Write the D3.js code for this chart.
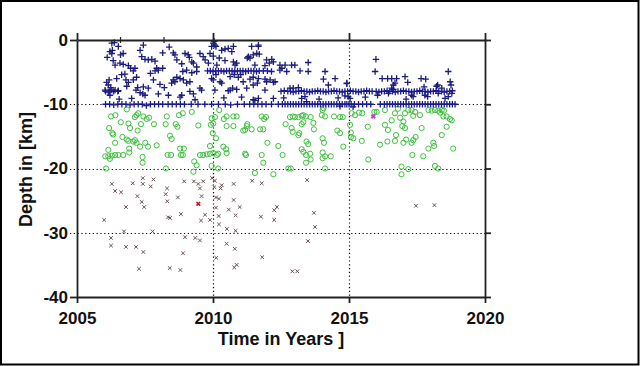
<!DOCTYPE html>
<html><head><meta charset="utf-8">
<script src="https://cdn.jsdelivr.net/npm/d3@7"></script>
<style>body{margin:0;background:#fff}svg{display:block}</style>
</head><body>
<svg id="chart" width="640" height="366"></svg>
<script>
// ---- axis ticks ----
const xTicks = [2005, 2010, 2015, 2020];
const yTicks = [0, -10, -20, -30, -40];
const gridYears = [2010, 2015];
const gridDepths = [-10, -20, -30];
const topMinorTicks = [2006.6, 2008.2];
const xTitle = "Time in Years ]";
const yTitle = "Depth in [km]";

// ---- shallow events (+), scattered ----
const shallowScatter = [
[2006.28,-0.5],[2006.37,-0.4],[2006.21,-1.8],[2006.30,-1.6],[2006.28,-2.1],[2006.52,-1.0],[2006.70,-2.1],[2006.11,-2.7],
[2006.33,-3.2],[2006.40,-3.9],[2006.58,-3.6],[2006.70,-3.8],[2006.89,-4.0],[2006.97,-4.4],[2007.07,-4.8],[2007.13,-4.4],
[2007.44,-0.8],[2007.32,-1.6],[2007.38,-2.6],[2007.50,-3.0],[2007.62,-3.1],[2007.75,-3.0],[2007.87,-3.3],[2008.15,-2.0],
[2007.93,-4.4],[2007.87,-4.8],[2007.99,-4.7],[2008.15,-4.4],[2008.39,-1.1],[2008.54,-2.0],[2008.60,-2.3],[2008.67,-3.1],
[2008.85,-3.7],[2008.97,-2.1],[2009.09,-2.3],[2009.13,-2.7],[2009.22,-3.4],[2009.28,-3.6],[2009.40,-4.2],[2008.89,-4.9],
[2009.03,-4.7],[2009.22,-5.1],[2009.40,-4.9],[2009.52,-2.1],[2009.64,-2.6],[2009.71,-3.1],[2009.83,-3.6],[2006.60,-2.3],
[2006.18,-6.2],[2006.09,-6.6],[2006.15,-7.0],[2006.24,-7.4],[2006.21,-8.6],[2006.03,-7.8],[2006.40,-7.8],[2006.52,-7.9],
[2006.28,-7.8],[2006.15,-8.1],[2006.46,-6.0],[2006.64,-5.4],[2006.76,-5.3],[2006.80,-6.2],[2006.89,-6.6],[2006.83,-7.2],
[2007.07,-6.2],[2007.19,-5.8],[2007.17,-7.8],[2007.23,-7.4],[2007.32,-8.2],[2007.42,-8.4],[2007.50,-8.6],[2007.62,-7.5],
[2007.81,-6.2],[2007.99,-8.4],[2008.21,-7.4],[2008.36,-8.6],[2008.54,-6.2],[2008.67,-5.8],[2008.79,-6.0],[2008.91,-6.2],
[2008.85,-8.6],[2008.79,-8.9],[2009.03,-6.7],[2009.15,-6.5],[2009.15,-8.0],[2009.28,-8.4],[2009.34,-9.3],[2009.52,-7.5],
[2009.58,-7.8],[2007.01,-9.1],[2007.44,-7.3],[2008.48,-6.7],[2008.60,-6.5],[2007.70,-5.2],[2008.05,-6.9],[2006.55,-9.2],
[2009.95,-1.0],[2010.01,-0.5],[2010.04,-0.2],[2010.11,-1.0],[2010.07,-0.8],[2009.89,-2.1],[2010.01,-2.5],[2010.32,-1.6],
[2010.44,-1.4],[2010.56,-1.3],[2010.75,-1.0],[2010.69,-1.8],[2010.23,-2.8],[2010.44,-3.2],[2010.75,-3.4],[2010.81,-3.9],
[2010.87,-3.6],[2010.14,-3.9],[2011.30,-2.6],[2011.36,-2.8],[2011.48,-2.3],[2011.67,-1.0],[2011.42,-1.0],[2011.67,-0.8],
[2011.61,-2.1],[2011.70,-2.2],[2011.26,-2.8],[2011.54,-3.9],[2009.95,-6.0],[2010.01,-6.2],[2010.11,-5.4],[2010.07,-7.8],
[2010.32,-6.7],[2010.26,-6.5],[2010.63,-7.8],[2010.72,-7.5],[2010.87,-7.7],[2010.78,-5.4],[2010.93,-5.8],[2011.02,-5.4],
[2010.63,-5.7],[2011.11,-6.5],[2011.24,-7.5],[2011.48,-9.3],[2011.67,-9.1],[2011.36,-6.1],[2011.48,-5.8],[2011.67,-6.0],
[2011.48,-7.0],[2011.63,-6.7],[2010.56,-7.9],[2010.40,-9.0],[2011.05,-8.9],
[2011.97,-3.1],[2012.07,-3.6],[2012.16,-3.0],[2012.22,-3.4],[2011.91,-4.0],[2012.46,-3.9],[2012.53,-4.4],[2012.65,-3.9],
[2012.89,-3.9],[2013.01,-3.9],[2013.50,-3.5],[2012.46,-4.7],[2012.71,-4.9],[2013.20,-4.8],[2013.50,-4.9],
[2014.12,-4.9],[2011.91,-6.1],[2012.10,-6.2],[2012.22,-6.6],[2012.28,-6.5],[2011.97,-6.5],[2011.91,-7.8],[2012.83,-7.5],
[2013.14,-7.4],[2012.95,-7.5],[2014.06,-6.1],[2014.49,-6.0],[2014.24,-7.0],[2014.92,-6.8],[2012.22,-9.1],[2013.26,-9.1],
[2013.38,-8.8],[2013.44,-9.6],[2011.54,-9.4],[2014.85,-8.7],[2013.90,-9.2],[2014.60,-9.0],[2012.60,-9.0],
[2015.99,-3.0],[2015.96,-4.9],[2016.22,-6.0],[2016.42,-6.0],[2016.57,-6.0],[2016.75,-6.0],[2017.06,-5.7],[2017.16,-6.6],
[2016.63,-7.0],[2016.69,-6.7],[2016.57,-7.5],[2017.65,-6.0],[2017.82,-6.1],[2017.76,-7.3],[2018.26,-7.0],[2018.41,-7.5],
[2018.65,-4.9],[2018.72,-6.5],[2018.75,-7.0],[2018.22,-7.2],[2014.92,-6.7],[2017.30,-8.6],[2017.36,-8.8],[2014.97,-8.8],
[2015.04,-9.1],[2017.79,-8.6],[2017.89,-8.8],[2018.53,-9.1],[2018.65,-8.8],[2018.28,-8.3],[2016.45,-8.3],[2016.63,-7.7],
[2018.78,-8.3],[2015.15,-10.4],[2014.67,-10.3],[2016.05,-8.6],[2015.60,-8.9],[2017.10,-9.2]
];
// ---- shallow events (+) on the -8 km line ----
const shallowBand8 = [
[2006.05,-8.0],[2006.2,-8.0],[2006.35,-8.0],[2006.5,-8.0],
[2012.5,-8.0],[2012.62,-7.9],[2012.75,-8.0],[2012.85,-8.0],[2012.95,-8.1],[2013.05,-8.0],[2013.15,-8.0],[2013.25,-7.9],
[2013.35,-8.0],[2013.45,-8.0],[2013.55,-8.1],[2013.65,-8.0],[2013.75,-8.0],[2013.85,-7.9],[2013.95,-8.0],[2014.05,-8.0],
[2014.15,-8.1],[2014.25,-8.0],[2014.35,-8.0],[2014.45,-7.9],[2014.55,-8.0],[2014.65,-8.0],[2014.75,-8.1],[2014.85,-8.0],
[2014.95,-8.0],[2015.05,-7.9],[2015.15,-8.0],[2015.25,-8.0],[2015.35,-8.1],[2015.45,-8.0],[2015.55,-8.0],[2015.65,-7.9],
[2015.75,-8.0],[2015.85,-8.0],[2016.0,-8.0],[2016.1,-8.1],[2016.2,-8.0],[2016.3,-8.0],[2016.4,-7.9],[2016.5,-8.0],
[2016.6,-8.0],[2016.7,-8.1],[2016.8,-8.0],[2016.9,-8.0],[2017.0,-7.9],[2017.1,-8.0],[2017.2,-8.0],[2017.3,-8.1],
[2017.4,-8.0],[2017.5,-8.0],[2017.6,-7.9],[2017.7,-8.0],[2017.8,-8.0],[2017.9,-8.1],[2018.0,-8.0],[2018.1,-8.0],
[2018.2,-7.9],[2018.3,-8.0],[2018.4,-8.0],[2018.5,-8.1],[2018.6,-8.0],[2018.7,-8.0],[2018.8,-7.9]
];
// ---- shallow events (+) on the -4.8 km line ----
const shallowBand5 = [
[2009.8,-4.8],[2009.9,-4.8],[2010.0,-4.9],[2010.1,-4.8],[2010.2,-4.8],[2010.3,-4.8],[2010.4,-4.9],[2010.5,-4.8],
[2010.6,-4.8],[2010.7,-4.8],[2010.8,-4.9],[2010.9,-4.8],[2011.0,-4.8],[2011.1,-4.8],[2011.2,-4.9],[2011.3,-4.8],
[2011.4,-4.8],[2011.5,-4.8],[2011.6,-4.9],[2011.7,-4.8],[2011.85,-4.8],[2012.0,-4.8],[2012.15,-4.9]
];
// ---- shallow events (+) on the -10 km line ----
const shallowBand10 = [
[2006.05,-10.0],[2006.2,-10.0],[2006.35,-10.1],[2006.5,-10.0],[2006.65,-10.0],[2006.8,-10.0],[2006.95,-10.1],[2007.1,-10.0],
[2007.25,-10.0],[2007.4,-10.0],[2007.55,-10.2],[2007.7,-10.0],[2007.85,-10.0],[2008.0,-10.0],[2008.15,-10.0],[2008.35,-10.0],
[2008.5,-10.0],[2008.65,-10.0],[2008.8,-10.0],[2008.95,-10.0],[2009.2,-10.0],[2009.45,-10.0],[2009.7,-10.0],[2009.95,-10.0],
[2010.2,-10.0],[2010.45,-10.0],[2010.65,-10.1],[2010.9,-10.0],[2011.15,-10.0],[2011.35,-10.0],[2011.5,-10.0],[2011.65,-10.0],
[2011.8,-10.0],[2011.95,-10.0],[2012.15,-10.0],[2012.4,-10.0],[2012.55,-10.0],[2012.65,-10.0],[2012.75,-10.0],[2012.85,-10.0],
[2012.95,-10.0],[2013.05,-10.0],[2013.15,-10.0],[2013.25,-10.0],[2013.35,-10.0],[2013.45,-10.0],[2013.55,-10.0],[2013.65,-10.0],
[2013.75,-10.0],[2013.85,-10.0],[2013.95,-10.0],[2014.05,-10.0],[2014.15,-10.0],[2014.25,-10.0],[2014.35,-10.0],[2014.45,-10.0],
[2014.55,-10.0],[2014.65,-10.0],[2014.75,-10.0],[2014.85,-10.0],[2014.92,-10.0],[2015.0,-10.0],[2015.08,-10.0],[2015.2,-10.0],
[2015.35,-10.0],[2015.5,-10.0],[2015.65,-10.0],[2015.8,-10.0],[2016.15,-10.0],[2016.3,-10.0],[2016.4,-10.0],[2016.5,-10.0],
[2016.6,-10.0],[2016.7,-10.0],[2016.8,-10.0],[2016.9,-10.0],[2017.0,-10.0],[2017.1,-10.0],[2017.2,-10.0],[2017.3,-10.0],
[2017.4,-10.0],[2017.5,-10.0],[2017.6,-10.0],[2017.7,-10.0],[2017.8,-10.0],[2017.9,-10.0],[2018.0,-10.0],[2018.1,-10.0],
[2018.2,-10.0],[2018.3,-10.0],[2018.4,-10.0],[2018.5,-10.0],[2018.6,-10.0],[2018.7,-10.0],[2018.8,-10.0],[2018.9,-10.0]
];

// ---- intermediate events (o) ----
const midEvents = [
[2006.07,-20.0],[2006.25,-11.9],[2006.41,-11.7],[2006.18,-13.7],[2006.61,-12.8],[2006.83,-10.8],[2006.89,-13.0],[2006.95,-13.7],
[2007.13,-12.0],[2007.19,-11.7],[2007.25,-11.4],[2007.44,-11.9],[2007.56,-12.3],[2007.65,-12.1],[2007.35,-13.1],[2007.23,-14.1],
[2007.83,-13.1],[2006.30,-14.5],[2006.33,-14.7],[2006.40,-16.0],[2006.67,-15.1],[2006.83,-15.5],[2006.89,-15.7],[2007.07,-15.8],
[2007.13,-15.6],[2007.19,-16.0],[2006.92,-16.9],[2007.32,-16.6],[2007.51,-16.0],[2007.61,-16.6],[2007.93,-16.4],[2006.15,-17.1],
[2006.04,-18.1],[2006.15,-18.1],[2006.28,-18.0],[2006.40,-17.9],[2006.52,-17.9],[2006.70,-17.9],[2006.21,-18.5],[2006.92,-17.5],
[2007.41,-18.2],[2007.41,-19.1],[2008.30,-11.9],[2008.26,-13.1],[2008.63,-13.1],[2008.69,-13.5],[2008.42,-14.9],[2008.48,-15.4],
[2008.75,-11.7],[2008.89,-11.4],[2009.22,-11.2],[2009.46,-13.3],[2008.79,-16.9],[2008.93,-16.9],[2008.33,-17.9],[2008.46,-17.9],
[2008.82,-17.9],[2008.89,-17.9],[2008.27,-20.0],[2009.31,-18.9],[2009.40,-19.5],[2009.28,-20.5],[2009.52,-17.9],[2009.64,-17.9],
[2009.77,-17.8],[2009.89,-17.7],[2010.01,-17.6],[2010.14,-17.9],[2010.19,-17.7],[2009.89,-16.5],[2009.99,-14.5],[2010.11,-15.3],
[2009.92,-13.2],[2010.01,-13.0],[2009.95,-12.2],[2010.07,-12.0],[2010.23,-10.9],[2010.40,-12.3],[2010.50,-11.9],[2010.75,-11.9],
[2010.87,-11.9],[2010.50,-13.4],[2010.75,-13.4],[2010.38,-16.6],[2010.48,-17.0],[2010.50,-17.6],[2011.18,-17.7],[2011.24,-13.4],
[2011.18,-14.0],[2011.42,-13.9],[2009.95,-19.6],[2010.19,-20.0],[2011.54,-20.7],[2011.26,-13.1],[2011.11,-14.1],[2011.79,-11.9],
[2011.88,-12.3],[2011.95,-12.0],[2011.73,-13.9],[2011.85,-13.9],[2012.00,-16.0],[2012.40,-16.5],[2011.21,-17.9],[2011.79,-17.9],
[2011.85,-19.1],[2012.56,-17.9],[2012.22,-20.9],[2012.67,-13.1],[2012.83,-12.0],[2012.93,-11.9],[2013.01,-12.0],[2013.14,-12.0],
[2013.26,-11.8],[2013.32,-11.7],[2013.41,-11.9],[2012.89,-13.7],[2012.93,-14.3],[2013.14,-14.8],[2013.17,-14.5],[2013.26,-13.1],
[2013.32,-12.8],[2013.69,-12.9],[2013.59,-12.0],[2014.00,-11.7],[2014.12,-11.9],[2013.71,-13.9],[2014.03,-15.3],[2014.08,-16.0],
[2013.44,-15.8],[2013.50,-16.2],[2013.26,-17.0],[2013.32,-17.4],[2013.57,-17.7],[2013.42,-17.9],[2014.03,-17.5],[2014.12,-18.1],
[2014.33,-18.1],[2013.59,-18.6],[2013.42,-19.1],[2014.03,-18.4],[2012.77,-20.0],[2012.86,-20.0],[2014.12,-20.0],[2014.45,-11.9],
[2014.67,-12.0],[2014.77,-12.0],[2014.57,-14.1],[2014.67,-14.5],[2014.79,-16.6],[2014.03,-10.9],[2014.06,-10.6],[2015.10,-11.4],
[2015.22,-11.7],[2015.37,-11.3],[2015.49,-11.4],[2015.04,-13.2],[2015.07,-14.4],[2015.07,-15.1],[2015.16,-15.3],[2015.47,-15.7],
[2015.69,-13.5],[2015.71,-18.6],[2015.93,-11.2],[2016.02,-11.2],[2016.57,-12.5],[2016.41,-15.8],[2016.69,-15.7],[2016.73,-14.8],
[2016.96,-13.4],[2017.00,-12.7],[2017.06,-11.4],[2017.18,-10.9],[2017.30,-10.9],[2017.43,-11.2],[2017.36,-11.8],[2017.00,-16.0],
[2017.10,-15.5],[2017.30,-16.0],[2017.36,-15.6],[2017.45,-15.1],[2017.33,-17.9],[2017.73,-18.1],[2017.67,-13.7],[2017.61,-11.7],
[2017.92,-10.9],[2018.04,-11.0],[2018.16,-10.9],[2018.28,-11.0],[2018.41,-10.9],[2018.49,-11.0],[2018.47,-11.9],[2018.71,-12.3],
[2018.59,-13.5],[2018.41,-14.8],[2018.10,-16.0],[2018.13,-16.5],[2017.92,-16.9],[2018.83,-16.9],[2016.93,-19.7],[2017.18,-20.1],
[2016.93,-20.9],[2018.28,-20.0],[2018.16,-19.6],[2018.59,-11.9],[2018.78,-12.5],[2018.35,-11.3],[2016.32,-13.2],[2016.43,-14.0],
[2016.88,-12.1],[2017.06,-13.7],[2016.69,-11.4],[2016.80,-10.7],[2016.32,-10.9],[2016.14,-16.3]
];

// ---- deep events (x) ----
const deepEvents = [
[2006.28,-22.4],[2007.05,-22.3],[2007.42,-21.5],[2007.42,-22.4],[2007.81,-21.7],[2007.71,-22.8],[2006.40,-23.5],[2006.62,-23.7],
[2007.22,-24.3],[2007.38,-25.2],[2007.47,-26.0],[2006.80,-26.0],[2006.00,-28.0],[2006.73,-29.8],[2007.78,-29.8],[2006.25,-30.8],
[2006.25,-32.0],[2006.80,-32.2],[2007.17,-32.2],[2007.44,-33.0],[2007.28,-35.6],[2008.31,-23.1],[2008.26,-24.0],[2008.32,-25.1],
[2008.71,-24.5],[2008.35,-27.6],[2008.42,-27.7],[2008.82,-27.1],[2008.94,-22.0],[2009.30,-22.0],[2009.46,-22.4],[2009.64,-22.0],
[2009.52,-23.1],[2009.58,-24.3],[2009.71,-27.2],[2009.56,-28.1],[2009.89,-28.0],[2008.97,-30.7],[2009.35,-30.8],[2009.52,-31.2],
[2008.90,-33.2],[2008.41,-35.5],[2008.80,-35.8],[2009.97,-21.5],[2010.07,-21.9],[2010.05,-22.9],[2010.32,-22.6],[2010.28,-23.1],
[2010.76,-22.4],[2010.11,-24.5],[2010.22,-24.7],[2010.76,-24.9],[2010.11,-26.1],[2010.58,-26.4],[2010.98,-26.0],[2010.21,-27.4],
[2010.83,-27.3],[2010.22,-28.7],[2010.51,-29.4],[2010.83,-29.7],[2010.50,-31.7],[2010.80,-32.5],[2010.12,-33.9],[2010.87,-35.0],
[2010.78,-35.4],[2011.44,-21.9],[2011.79,-22.3],[2012.25,-26.5],[2012.35,-26.0],[2011.76,-27.5],[2012.25,-28.0],[2011.81,-33.8],
[2013.46,-21.8],[2013.71,-26.9],[2013.75,-29.1],[2013.49,-31.3],[2012.92,-36.0],[2013.10,-36.0],[2017.46,-25.8],[2018.14,-25.7]
];
const redEvents = [[2009.46,-25.5]];
const magentaEvents = [[2015.89,-11.9]];

// ---- drawing ----
const svg = d3.select("#chart");
const W = 640, H = 366;
const margin = {left: 77, right: 155, top: 40, bottom: 69};
const x = d3.scaleLinear().domain([2005, 2020]).range([margin.left, W - margin.right]);
const y = d3.scaleLinear().domain([0, -40]).range([margin.top, H - margin.bottom]);
const FONT = "'Liberation Sans', Arial, sans-serif";
const AX = "#222";

svg.append("rect").attr("width", W).attr("height", H).attr("fill", "#fff");
svg.append("rect").attr("x", 1).attr("y", 1).attr("width", W - 2.5).attr("height", H - 2.5)
  .attr("fill", "none").attr("stroke", "#000").attr("stroke-width", 2);

// grid (dotted)
const grid = svg.append("g").attr("stroke", "#000").attr("stroke-width", 1.2).attr("stroke-dasharray", "1.2,2.6");
grid.selectAll(".gx").data(gridYears).join("line")
  .attr("x1", d => Math.round(x(d)) + 0.5).attr("x2", d => Math.round(x(d)) + 0.5)
  .attr("y1", y(0)).attr("y2", y(-40));
grid.selectAll(".gy").data(gridDepths).join("line")
  .attr("x1", x(2005) - 7).attr("x2", x(2020))
  .attr("y1", d => Math.round(y(d)) + 0.5).attr("y2", d => Math.round(y(d)) + 0.5);

// markers
function cross(g, data, color) {
  g.selectAll(null).data(data).join("path")
    .attr("transform", d => `translate(${x(d[0])},${y(d[1])})`)
    .attr("d", "M-3.2,0H3.2M0,-3.2V3.2")
    .attr("stroke", color).attr("stroke-width", 1.3).attr("fill", "none");
}
function xmark(g, data, color, w) {
  g.selectAll(null).data(data).join("path")
    .attr("transform", d => `translate(${x(d[0])},${y(d[1])})`)
    .attr("d", "M-1.8,-1.8L1.8,1.8M-1.8,1.8L1.8,-1.8")
    .attr("stroke", color).attr("stroke-width", w).attr("fill", "none");
}
const marks = svg.append("g");
marks.append("g").selectAll("circle").data(midEvents).join("circle")
  .attr("cx", d => x(d[0])).attr("cy", d => y(d[1])).attr("r", 2.6)
  .attr("fill", "none").attr("stroke", "#3cc03c").attr("stroke-width", 1);
xmark(marks.append("g"), deepEvents, "#6a5050", 1);
xmark(marks.append("g"), redEvents, "#c81010", 1.6);
xmark(marks.append("g"), magentaEvents, "#c040c0", 2);
const blue = marks.append("g");
cross(blue, shallowScatter, "#1c1c7a");
cross(blue, shallowBand8, "#1a1a90");
cross(blue, shallowBand5, "#1a1a90");
cross(blue, shallowBand10, "#1a1a90");

// axes
function styleAxis(g) {
  g.select(".domain").attr("stroke", AX).attr("stroke-width", 1.8);
  g.selectAll(".tick line").attr("stroke", AX).attr("stroke-width", 1.8);
  g.selectAll("text").attr("fill", "#111").attr("font-family", FONT).attr("font-weight", "bold").attr("font-size", 17);
}
const gl = svg.append("g").attr("transform", `translate(${x(2005)},0)`)
  .call(d3.axisLeft(y).tickValues(yTicks).tickSize(7).tickSizeOuter(0).tickPadding(2).tickFormat(d => String(d)))
  .call(styleAxis);
gl.selectAll(".tick").filter(d => d !== 0 && d !== -40).select("line").attr("stroke", "none");
const gr = svg.append("g").attr("transform", `translate(${x(2020)},0)`)
  .call(d3.axisRight(y).tickValues(yTicks).tickSize(6).tickSizeOuter(0).tickFormat(""))
  .call(styleAxis);
const gb = svg.append("g").attr("transform", `translate(0,${y(-40)})`)
  .call(d3.axisBottom(x).tickValues(xTicks).tickSize(6).tickSizeOuter(0).tickPadding(9).tickFormat(d3.format("d")))
  .call(styleAxis);
const gt = svg.append("g").attr("transform", `translate(0,${y(0)})`)
  .call(d3.axisTop(x).tickValues(xTicks).tickSize(7).tickSizeOuter(0).tickFormat(""))
  .call(styleAxis);
svg.append("g").selectAll("line").data(topMinorTicks).join("line")
  .attr("x1", d => x(d)).attr("x2", d => x(d)).attr("y1", y(0) - 3).attr("y2", y(0) + 3)
  .attr("stroke", AX).attr("stroke-width", 1.2);

// titles
svg.append("text").attr("x", (x(2005) + x(2020)) / 2).attr("y", y(-40) + 48)
  .attr("text-anchor", "middle").attr("font-family", FONT).attr("font-weight", "bold").attr("font-size", 18)
  .attr("fill", "#111").text(xTitle);
svg.append("text").attr("transform", `translate(32,${(y(0) + y(-40)) / 2 + 1}) rotate(-90)`)
  .attr("text-anchor", "middle").attr("font-family", FONT).attr("font-weight", "bold").attr("font-size", 18)
  .attr("fill", "#111").text(yTitle);
</script>
</body></html>
